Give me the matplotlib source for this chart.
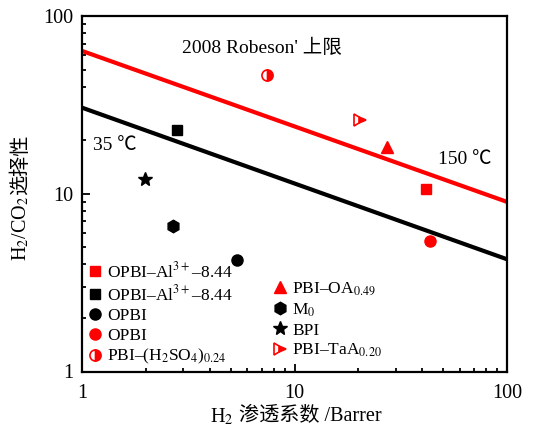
import matplotlib
matplotlib.use("Agg")
import matplotlib.pyplot as plt
import numpy as np

plt.rcParams['font.family'] = ['Liberation Serif', 'Noto Sans CJK SC', 'DejaVu Sans']
plt.rcParams['mathtext.fontset'] = 'stix'

# Data (H2 permeability in Barrer, H2/CO2 selectivity)
names = ["OPBI-Al3+-8.44 (150C)", "OPBI-Al3+-8.44 (35C)", "OPBI (35C)", "OPBI (150C)",
         "PBI-(H2SO4)0.24", "PBI-OA0.49", "M0", "BPI", "PBI-TaA0.20"]
perm = [41.6, 2.79, 5.38, 43.4, 7.4, 27.2, 2.67, 1.98, 20.3]
selec = [10.6, 22.8, 4.22, 5.44, 46.6, 18.4, 6.6, 12.1, 26.0]
labels = ["OPBI–Al$^{3+}$–8.44", "OPBI–Al$^{3+}$–8.44", "OPBI", "OPBI",
          "PBI–(H$_2$SO$_4$)$_{0.24}$", "PBI–OA$_{0.49}$", "M$_0$", "BPI", "PBI–TaA$_{0.20}$"]

# Upper bound lines (endpoints)
red_x = [1, 100]
red_y = [63.6, 9.0]
black_x = [1, 100]
black_y = [30.5, 4.28]

styles = [
    dict(marker='s', color='red', ms=7),
    dict(marker='s', color='black', ms=7),
    dict(marker='o', color='black', ms=8),
    dict(marker='o', color='red', ms=8),
    dict(marker='o', color='red', ms=8, fillstyle='right', markerfacecoloralt='white', mec='red', mew=1.2),
    dict(marker='^', color='red', ms=9),
    dict(marker='h', color='black', ms=9),
    dict(marker='*', color='black', ms=10),
    dict(marker='>', color='red', ms=8, fillstyle='right', markerfacecoloralt='white', mec='red', mew=1.2),
]

W, H = 542, 441
fig = plt.figure(figsize=(5.42, 4.41), dpi=100)
ax = fig.add_axes([82 / W, 1 - 371.5 / H, (507 - 82) / W, (371.5 - 16) / H])

ax.plot(red_x, red_y, color='red', lw=3)
ax.plot(black_x, black_y, color='black', lw=3)

handles = []
for x, y, st, lab in zip(perm, selec, styles, labels):
    h, = ax.plot([x], [y], linestyle='none', **st, label=lab)
    handles.append(h)

ax.set_xscale('log')
ax.set_yscale('log')
ax.set_xlim(1, 100)
ax.set_ylim(1, 100)
ax.set_xticks([1, 10, 100])
ax.set_xticklabels(['1', '10', '100'])
ax.set_yticks([1, 10, 100])
ax.set_yticklabels(['1', '10', '100'])
ax.tick_params(which='both', direction='in', top=False, right=False, labelsize=14.5, width=1.3)
ax.tick_params(which='major', length=6)
ax.tick_params(which='minor', length=3)
ax.tick_params(axis='x', which='major', pad=9)
ax.tick_params(axis='y', which='major', pad=6)
for s in ax.spines.values():
    s.set_linewidth(1.6)

fig.text(262 / W, 1 - 48 / H, "2008 Robeson' 上限", fontsize=14, ha='center', va='center')
fig.text(115 / W, 1 - 145 / H, "35 ℃", fontsize=14, ha='center', va='center')
fig.text(465 / W, 1 - 160 / H, "150 ℃", fontsize=14, ha='center', va='center')

common = dict(frameon=False, fontsize=12.5, handlelength=0.8, handletextpad=0.3,
              labelspacing=0.2, borderpad=0, borderaxespad=0, bbox_transform=fig.transFigure)
leg1 = ax.legend(handles=handles[:5], loc='upper left', bbox_to_anchor=(88 / W, 1 - 261 / H), **common)
ax.add_artist(leg1)
leg2 = ax.legend(handles=handles[5:], loc='upper left', bbox_to_anchor=(273 / W, 1 - 281 / H), **common)

# Axis labels composed of pieces (mathtext part + CJK part)
renderer = fig.canvas.get_renderer()

# x label
xa = fig.text(0, 1 - 414 / H, "H$_2$", fontsize=14.5, ha='left', va='center_baseline')
xb = fig.text(0, 1 - 414 / H, " 渗透系数 /Barrer", fontsize=14.5, ha='left', va='center_baseline')
wa = xa.get_window_extent(renderer).width
wb = xb.get_window_extent(renderer).width
x0 = 296 - (wa + wb) / 2
xa.set_x(x0 / W)
xb.set_x((x0 + wa) / W)

# y label (rotated, reading bottom to top)
ya = fig.text(21 / W, 0, "H$_2$/CO$_2$", fontsize=14.5, rotation=90, ha='center', va='bottom')
yb = fig.text(21 / W, 0, "选择性", fontsize=14.5, rotation=90, ha='center', va='bottom')
ha_ = ya.get_window_extent(renderer).height
hb_ = yb.get_window_extent(renderer).height
ybot = (H - 268) + ((268 - 128) - (ha_ + hb_)) / 2
ya.set_y(ybot / H)
yb.set_y((ybot + ha_) / H)

fig.savefig("out.png", dpi=100)
